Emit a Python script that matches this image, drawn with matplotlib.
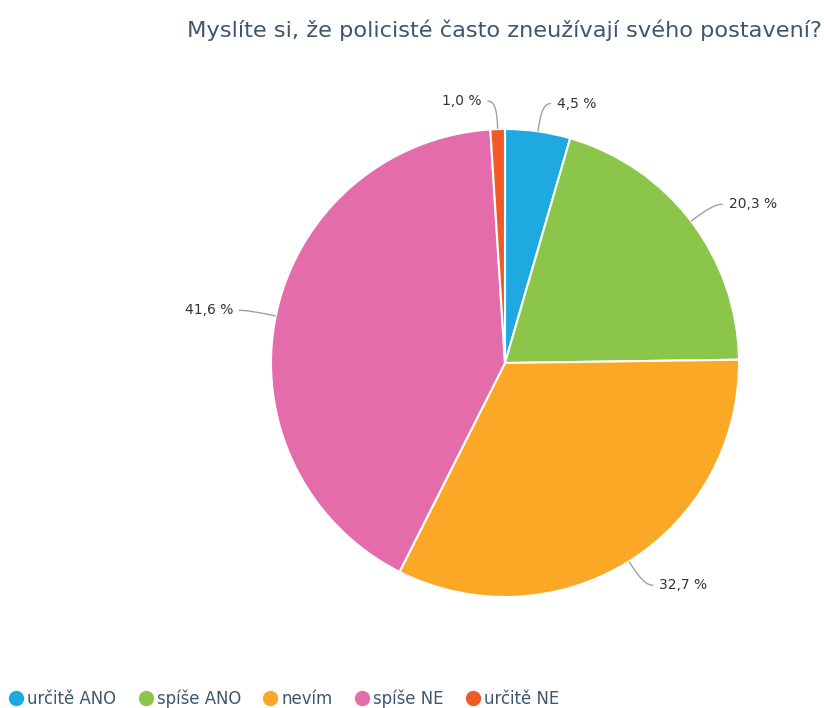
import numpy as np
import matplotlib
matplotlib.use("Agg")
import matplotlib.pyplot as plt
import matplotlib.font_manager as fm
from matplotlib.path import Path
from matplotlib.patches import PathPatch
from matplotlib.lines import Line2D

title = "Myslíte si, že policisté často zneužívají svého postavení?"
categories = ["určitě ANO", "spíše ANO", "nevím", "spíše NE", "určitě NE"]
values = [4.5, 20.3, 32.7, 41.6, 1.0]
labels = ["4,5 %", "20,3 %", "32,7 %", "41,6 %", "1,0 %"]
colors = ["#1fa9e1", "#8bc64a", "#fba826", "#e46caa", "#f15a24"]
text_color = "#3e566e"

# pick a condensed font for the legend if one is installed
legend_prop = None
for f in fm.fontManager.ttflist:
    if "ondensed" in f.fname or "Narrow" in f.fname:
        legend_prop = fm.FontProperties(fname=f.fname, size=13.2)
        if "DejaVuSansCondensed.ttf" in f.fname:
            break
if legend_prop is None:
    legend_prop = fm.FontProperties(family="Roboto", size=13.2)

W, H = 824, 708
fig = plt.figure(figsize=(W / 100, H / 100), dpi=100)
fig.patch.set_facecolor("white")

cx, cy, R = 505, 363, 234
ax = fig.add_axes([(cx - R) / W, (H - cy - R) / H, 2 * R / W, 2 * R / H])
wedges, _ = ax.pie(values, colors=colors, startangle=90, counterclock=False,
                   radius=1, wedgeprops=dict(edgecolor="white", linewidth=1.5))
ax.set_xlim(-1, 1)
ax.set_ylim(-1, 1)
ax.set_aspect("auto")
ax.axis("off")

for w, lab in zip(wedges, labels):
    ang = np.deg2rad((w.theta1 + w.theta2) / 2)
    c, s = np.cos(ang), np.sin(ang)
    p0 = (1.0 * c, 1.0 * s)
    p1 = (1.12 * c, 1.12 * s)
    side = 1 if c >= 0 else -1
    p2 = (p1[0] + side * 0.04, p1[1])
    path = Path([p0, (1.09 * c, 1.09 * s), (p1[0] + side * 0.01, p1[1]), p2],
                [Path.MOVETO, Path.CURVE4, Path.CURVE4, Path.CURVE4])
    ax.add_patch(PathPatch(path, fill=False, edgecolor="#a0a0a0", linewidth=1.0,
                           clip_on=False))
    ax.text(p2[0] + side * 0.025, p2[1], lab, ha="left" if side > 0 else "right",
            va="center", fontsize=10, color="#333333", clip_on=False)

fig.text(822 / W, 1 - 30 / H, title, ha="right", va="center", fontsize=16.2,
         color=text_color, family="DejaVu Sans")

handles = [Line2D([0], [0], marker="o", linestyle="none", markersize=10,
                  markerfacecolor=col, markeredgecolor=col) for col in colors]
leg = fig.legend(handles, categories, loc="center left",
                 bbox_to_anchor=(0.0, 1 - 699 / H), ncol=5, frameon=False,
                 handletextpad=0.0, columnspacing=1.0, handlelength=1.2,
                 borderaxespad=0, borderpad=0.3, prop=legend_prop)
for t in leg.get_texts():
    t.set_color(text_color)

fig.savefig("out.png", dpi=100, facecolor="white")
